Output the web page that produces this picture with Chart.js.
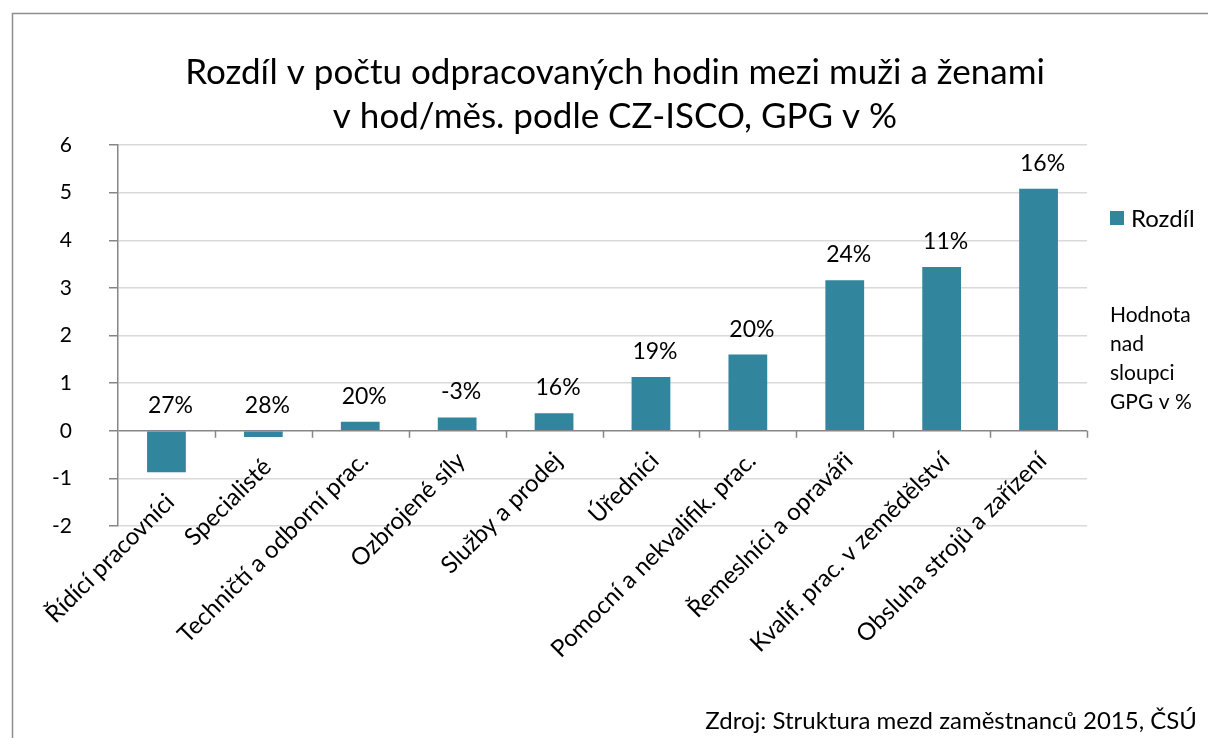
<!DOCTYPE html>
<html>
<head>
<meta charset="utf-8">
<script src="https://cdn.jsdelivr.net/npm/chart.js@4/dist/chart.umd.min.js"></script>
<style>
  html, body { margin: 0; padding: 0; background: #fff; }
  #wrap { width: 1208px; height: 738px; }
</style>
</head>
<body>
<div id="wrap"><canvas id="gpgChart" width="1208" height="738"></canvas></div>
<script>
// Data
const CATEGORIES = [
  "Řídící pracovníci",
  "Specialisté",
  "Techničtí a odborní prac.",
  "Ozbrojené síly",
  "Služby a prodej",
  "Úředníci",
  "Pomocní a nekvalifik. prac.",
  "Řemeslníci a opraváři",
  "Kvalif. prac. v zemědělství",
  "Obsluha strojů a zařízení"
];
const ROZDIL = [-0.87, -0.13, 0.19, 0.28, 0.37, 1.13, 1.60, 3.16, 3.44, 5.08];
const GPG_LABELS = ["27%", "28%", "20%", "-3%", "16%", "19%", "20%", "24%", "11%", "16%"];
const TITLE_LINES = ["Rozdíl v počtu odpracovaných hodin mezi muži a ženami", "v hod/měs. podle CZ-ISCO, GPG v %"];
const NOTE_LINES = ["Hodnota", "nad", "sloupci", "GPG v %"];
const SOURCE = "Zdroj: Struktura mezd zaměstnanců 2015, ČSÚ";

const FONT = "Lato, 'Open Sans', sans-serif";
const BAR_COLOR = '#31859C';
const AXIS_COLOR = '#868686';
const GRID_COLOR = '#d9d9d9';

// frame, title, category labels, legend, note, source and data labels
const decorPlugin = {
  id: 'decor',
  beforeDraw(chart) {
    const ctx = chart.ctx;
    ctx.save();
    ctx.fillStyle = '#fff';
    ctx.fillRect(0, 0, chart.width, chart.height);
    ctx.strokeStyle = '#8e8e8e';
    ctx.lineWidth = 1.5;
    ctx.strokeRect(12.5, 13.5, 1300, 800);
    ctx.restore();
  },
  afterDraw(chart) {
    const ctx = chart.ctx;
    const x = chart.scales.x;
    const y = chart.scales.y;
    const zeroY = y.getPixelForValue(0);
    ctx.save();

    // category tick marks hanging below the zero line
    const step = (x.right - x.left) / chart.data.labels.length;
    ctx.strokeStyle = AXIS_COLOR;
    ctx.lineWidth = 1.5;
    ctx.beginPath();
    for (let i = 1; i <= chart.data.labels.length; i++) {
      const px = Math.round(x.left + i * step) + 0.5;
      ctx.moveTo(px, zeroY);
      ctx.lineTo(px, zeroY + 7);
    }
    ctx.stroke();

    // category labels next to the axis (pushed under negative bars)
    ctx.fillStyle = '#000';
    ctx.font = '24px ' + FONT;
    ctx.textAlign = 'right';
    ctx.textBaseline = 'middle';
    chart.data.labels.forEach((label, i) => {
      const base = Math.max(zeroY, y.getPixelForValue(ROZDIL[i]));
      ctx.save();
      ctx.translate(x.getPixelForValue(i) + 4, base + 26);
      ctx.rotate(-Math.PI / 4);
      ctx.fillText(label, 0, 0);
      ctx.restore();
    });

    // title
    ctx.textAlign = 'center';
    ctx.textBaseline = 'alphabetic';
    ctx.font = '35px ' + FONT;
    ctx.fillText(TITLE_LINES[0], 615, 84);
    ctx.fillText(TITLE_LINES[1], 615, 128);

    // GPG labels above bars
    ctx.font = '23px ' + FONT;
    const meta = chart.getDatasetMeta(0);
    meta.data.forEach((bar, i) => {
      const top = Math.min(bar.y, zeroY);
      ctx.fillText(GPG_LABELS[i], bar.x + 4, top - 18);
    });

    // legend
    ctx.fillStyle = BAR_COLOR;
    ctx.fillRect(1110, 211, 14, 14);
    ctx.fillStyle = '#000';
    ctx.textAlign = 'left';
    ctx.font = '24px ' + FONT;
    ctx.textBaseline = 'middle';
    ctx.fillText(chart.data.datasets[0].label, 1131, 219);

    // note
    ctx.textBaseline = 'alphabetic';
    ctx.font = '21px ' + FONT;
    NOTE_LINES.forEach((line, i) => ctx.fillText(line, 1110, 322 + i * 29));

    // source
    ctx.textAlign = 'right';
    ctx.font = '24px ' + FONT;
    ctx.fillText(SOURCE, 1197, 729);

    ctx.restore();
  }
};

new Chart(document.getElementById('gpgChart'), {
  type: 'bar',
  data: {
    labels: CATEGORIES,
    datasets: [{
      label: 'Rozdíl',
      data: ROZDIL,
      backgroundColor: BAR_COLOR,
      borderWidth: 0,
      categoryPercentage: 1,
      barPercentage: 0.4
    }]
  },
  options: {
    responsive: false,
    animation: false,
    events: [],
    layout: { padding: { top: 145, right: 121, bottom: 0, left: 0 } },
    plugins: {
      legend: { display: false },
      tooltip: { enabled: false }
    },
    scales: {
      x: {
        grid: { display: false },
        border: { display: false },
        ticks: { display: false },
        afterFit(scale) { scale.height = 212; }
      },
      y: {
        min: -2,
        max: 6,
        border: { display: true, color: AXIS_COLOR, width: 1.5 },
        grid: {
          color: (c) => c.tick && c.tick.value === 0 ? AXIS_COLOR : GRID_COLOR,
          lineWidth: 1.5,
          tickColor: AXIS_COLOR,
          tickLength: 9
        },
        ticks: {
          stepSize: 1,
          color: '#000',
          font: { family: FONT, size: 21 },
          padding: 37
        },
        afterFit(scale) { scale.width = 118; }
      }
    }
  },
  plugins: [decorPlugin]
});
</script>
</body>
</html>
